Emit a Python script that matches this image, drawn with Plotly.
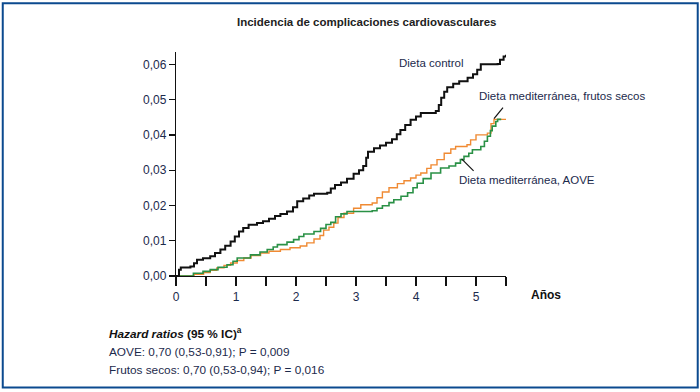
import plotly.graph_objects as go

# ---- data ----
control_t = [0, 0.05, 0.08, 0.24, 0.30, 0.35, 0.45, 0.57, 0.65, 0.74, 0.82, 0.91, 0.98, 1.05, 1.12, 1.21,
             1.35, 1.45, 1.55, 1.65, 1.74, 1.85, 1.95, 2.02, 2.12, 2.22, 2.30, 2.52, 2.58, 2.65, 2.75, 2.85,
             2.96, 3.05, 3.12, 3.17, 3.20, 3.30, 3.40, 3.50, 3.60, 3.68, 3.74, 3.82, 3.91, 4.00, 4.08, 4.33,
             4.38, 4.42, 4.47, 4.52, 4.62, 4.72, 4.86, 4.95, 5.02, 5.08, 5.36, 5.40, 5.46, 5.50]
control_v = [0, 0.0018, 0.0024, 0.0027, 0.0036, 0.0046, 0.0050, 0.0056, 0.0065, 0.0075, 0.0086, 0.0098,
             0.0112, 0.0126, 0.0136, 0.0145, 0.0150, 0.0155, 0.0162, 0.0170, 0.0176, 0.0183, 0.0195, 0.0212,
             0.0220, 0.0228, 0.0233, 0.0236, 0.0248, 0.0258, 0.0265, 0.0276, 0.0290, 0.0300, 0.0312, 0.0335,
             0.0352, 0.0362, 0.0370, 0.0378, 0.0388, 0.0402, 0.0414, 0.0428, 0.0443, 0.0452, 0.0462, 0.0468,
             0.0485, 0.0505, 0.0522, 0.0535, 0.0545, 0.0552, 0.0562, 0.0572, 0.0585, 0.0600, 0.0601, 0.0613,
             0.0622, 0.0627]

nuts_t = [0, 0.12, 0.30, 0.46, 0.57, 0.68, 0.80, 0.91, 1.02, 1.13, 1.25, 1.41, 1.55, 1.74, 1.90, 2.07, 2.18,
          2.30, 2.40, 2.46, 2.55, 2.63, 2.70, 2.80, 2.96, 3.08, 3.27, 3.35, 3.44, 3.55, 3.69, 3.80, 3.91,
          4.00, 4.08, 4.18, 4.25, 4.35, 4.47, 4.58, 4.66, 4.85, 4.91, 5.00, 5.19, 5.25, 5.30, 5.52]
nuts_v = [0, 0, 0.0005, 0.0010, 0.0016, 0.0023, 0.0030, 0.0037, 0.0044, 0.0051, 0.0058, 0.0065, 0.0070,
          0.0075, 0.0080, 0.0085, 0.0094, 0.0105, 0.0115, 0.0130, 0.0138, 0.0150, 0.0166, 0.0178, 0.0192,
          0.0202, 0.0207, 0.0222, 0.0238, 0.0250, 0.0262, 0.0270, 0.0278, 0.0286, 0.0292, 0.0305, 0.0315,
          0.0330, 0.0348, 0.0360, 0.0367, 0.0372, 0.0386, 0.0400, 0.0405, 0.0432, 0.0444, 0.0444]

aove_t = [0, 0.10, 0.29, 0.45, 0.57, 0.70, 0.85, 0.95, 1.02, 1.24, 1.40, 1.52, 1.62, 1.69, 1.85, 1.96, 2.05,
          2.13, 2.30, 2.41, 2.50, 2.58, 2.66, 2.75, 2.85, 3.27, 3.35, 3.44, 3.55, 3.63, 3.75, 3.86, 3.95,
          4.02, 4.12, 4.25, 4.41, 4.55, 4.66, 4.74, 4.80, 4.88, 4.94, 5.08, 5.14, 5.19, 5.24, 5.27, 5.33,
          5.36, 5.42]
aove_v = [0, 0, 0.0008, 0.0013, 0.0018, 0.0025, 0.0032, 0.0042, 0.0051, 0.0060, 0.0068, 0.0075, 0.0082,
          0.0089, 0.0096, 0.0103, 0.0112, 0.0119, 0.0126, 0.0135, 0.0146, 0.0152, 0.0168, 0.0176, 0.0183,
          0.0185, 0.0192, 0.0199, 0.0208, 0.0216, 0.0226, 0.0236, 0.0250, 0.0263, 0.0276, 0.0292, 0.0306,
          0.0312, 0.0320, 0.0330, 0.0339, 0.0348, 0.0358, 0.0367, 0.0382, 0.0396, 0.0412, 0.0425, 0.0438,
          0.0444, 0.0444]

x_tickvals = [0, 1, 2, 3, 4, 5]
x_ticktext = ["0", "1", "2", "3", "4", "5"]
y_tickvals = [0, 0.01, 0.02, 0.03, 0.04, 0.05, 0.06]
y_ticktext = ["0,00", "0,01", "0,02", "0,03", "0,04", "0,05", "0,06"]

title_text = "Incidencia de complicaciones cardiovasculares"
label_control = "Dieta control"
label_nuts = "Dieta mediterránea, frutos secos"
label_aove = "Dieta mediterránea, AOVE"
hr_lines = ["<b><i>Hazard ratios</i> (95 % IC)<sup>a</sup></b>",
            "AOVE: 0,70 (0,53-0,91); P = 0,009",
            "Frutos secos: 0,70 (0,53-0,94); P = 0,016"]

FONT = "Liberation Sans, Arial, sans-serif"
TXT = "#1c2a4c"
FS = 11.5

fig = go.Figure()
fig.add_trace(go.Scatter(x=nuts_t, y=nuts_v, mode="lines", line=dict(color="#f08a33", width=1.4, shape="hv"),
                         showlegend=False, hoverinfo="skip"))
fig.add_trace(go.Scatter(x=aove_t, y=aove_v, mode="lines", line=dict(color="#2a9146", width=1.6, shape="hv"),
                         showlegend=False, hoverinfo="skip"))
fig.add_trace(go.Scatter(x=control_t, y=control_v, mode="lines", line=dict(color="#111111", width=2, shape="hv"),
                         showlegend=False, hoverinfo="skip"))

fig.update_layout(
    width=700, height=392,
    margin=dict(l=176, r=194, t=52, b=116),
    paper_bgcolor="white", plot_bgcolor="white",
    font=dict(family=FONT, size=12, color=TXT),
    xaxis=dict(range=[0, 5.5], tickvals=x_tickvals, ticktext=x_ticktext, showgrid=False, zeroline=False,
               showline=True, linecolor="#111", linewidth=1.2, ticks="outside", ticklen=9, tickwidth=1.2,
               tickcolor="#111", tickfont=dict(size=12, color=TXT), fixedrange=True,
               minor=dict(tick0=0, dtick=0.5, ticks="outside", ticklen=9, tickwidth=1.2, tickcolor="#111",
                          showgrid=False)),
    yaxis=dict(range=[0, 0.0635], tickvals=y_tickvals, ticktext=y_ticktext, showgrid=False, zeroline=False,
               showline=True, linecolor="#111", linewidth=1.2, ticks="outside", ticklen=6, tickwidth=1.2,
               tickcolor="#111", tickfont=dict(size=12, color=TXT), fixedrange=True),
)

ann = []
ann.append(dict(text=f"<b>{title_text}</b>", xref="paper", yref="paper", x=0.58, y=1.134,
                xanchor="center", yanchor="middle", showarrow=False, font=dict(size=FS, color="#222")))
ann.append(dict(text=label_control, xref="x", yref="y", x=3.69, y=0.0603, xanchor="left", yanchor="middle",
                showarrow=False, font=dict(size=FS, color=TXT)))
ann.append(dict(text=label_nuts, xref="x", yref="y", x=5.01, y=0.0509, xanchor="left", yanchor="middle",
                showarrow=False, font=dict(size=FS, color=TXT)))
ann.append(dict(text=label_aove, xref="x", yref="y", x=4.69, y=0.0273, xanchor="left", yanchor="middle",
                showarrow=False, font=dict(size=FS, color=TXT)))
ann.append(dict(text="<b>Años</b>", xref="paper", yref="paper", x=1.071, y=-0.083, xanchor="left",
                yanchor="middle", showarrow=False, font=dict(size=12, color="#111")))
for i, (line, yy) in enumerate(zip(hr_lines, [-0.257, -0.339, -0.418])):
    ann.append(dict(text=line, xref="paper", yref="paper", x=-0.208, y=yy, xanchor="left", yanchor="middle",
                    showarrow=False, font=dict(size=FS + 0.3, color="#111" if i == 0 else TXT)))
fig.update_layout(annotations=ann)

shapes = [
    dict(type="line", xref="x", yref="y", x0=5.45, y0=0.0477, x1=5.30, y1=0.0446, line=dict(color="#111", width=1.2)),
    dict(type="line", xref="x", yref="y", x0=4.76, y0=0.0332, x1=4.96, y1=0.0298, line=dict(color="#111", width=1.2)),
    dict(type="rect", xref="paper", yref="paper", x0=-0.525, x1=1.581, y0=-0.498, y1=1.218,
         line=dict(color="#0b4a8f", width=2), fillcolor="rgba(0,0,0,0)", layer="below"),
]
fig.update_layout(shapes=shapes)

fig.write_html("out.html", config={"displayModeBar": False, "staticPlot": True},
               post_script="document.body.style.margin='0';document.body.style.padding='0';")
